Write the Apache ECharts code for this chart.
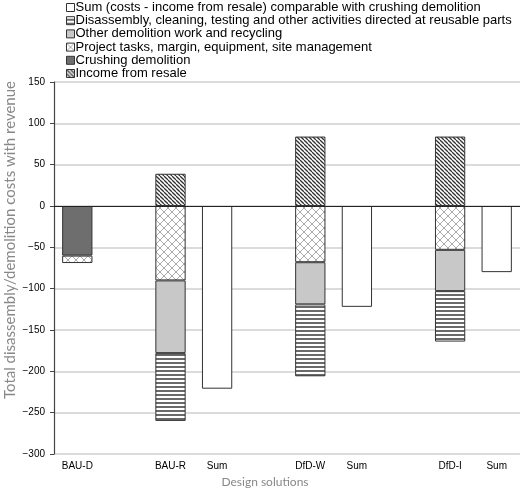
<!DOCTYPE html>
<html><head><meta charset="utf-8">
<script src="https://cdn.jsdelivr.net/npm/echarts@6/dist/echarts.min.js"></script>
<style>html,body{margin:0;padding:0;background:#fff}#c{width:520px;height:488px}</style>
</head><body><div id="c"></div>
<script>
const categories = ['BAU-D', '', 'BAU-R', 'Sum', '', 'DfD-W', 'Sum', '', 'DfD-I', 'Sum'];
const incomeResale = [null, null, 39, null, null, 84, null, null, 84, null];
const crushing = [-60, null, null, null, null, null, null, null, null, null];
const projectTasks = [-9, null, -90, null, null, -68, null, null, -53, null];
const otherDemolition = [null, null, -88, null, null, -51, null, null, -50, null];
const disassembly = [null, null, -82, null, null, -87, null, null, -61, null];
const sumValues = [null, null, null, -221, null, null, -122, null, null, -80];
const yTicks = { min: -300, max: 150, interval: 50 };
const yTitle = 'Total disassembly/demolition costs with revenue';

function pattern(kind) {
  const c = document.createElement('canvas');
  const ctx = c.getContext('2d');
  if (kind === 'diag') {
    c.width = 4; c.height = 4;
    ctx.fillStyle = '#fff'; ctx.fillRect(0, 0, 4, 4);
    ctx.strokeStyle = '#333'; ctx.lineWidth = 1.3;
    for (let k = -4; k <= 8; k += 4) {
      ctx.beginPath(); ctx.moveTo(k, 0); ctx.lineTo(k + 4, 4); ctx.stroke();
    }
  } else if (kind === 'cross') {
    c.width = 8; c.height = 8;
    ctx.fillStyle = '#fff'; ctx.fillRect(0, 0, 8, 8);
    ctx.strokeStyle = '#aaa'; ctx.lineWidth = 1;
    ctx.beginPath();
    ctx.moveTo(0, 0); ctx.lineTo(8, 8);
    ctx.moveTo(8, 0); ctx.lineTo(0, 8);
    ctx.stroke();
  } else if (kind === 'hline') {
    c.width = 4; c.height = 4;
    ctx.fillStyle = '#fff'; ctx.fillRect(0, 0, 4, 4);
    ctx.fillStyle = '#6a6a6a'; ctx.fillRect(0, 2, 4, 2);
  }
  return { image: c, repeat: 'repeat' };
}

const border = { borderColor: '#333', borderWidth: 1 };
const bw = '65%';
function s(name, data, color) {
  return { name, type: 'bar', stack: 'a', data, barWidth: bw,
    itemStyle: Object.assign({ color }, border), emphasis: { disabled: true } };
}
const series = [
  s('Sum (costs - income from resale) comparable with crushing demolition', sumValues, '#fff'),
  s('Crushing demolition', crushing, '#6e6e6e'),
  s('Project tasks, margin, equipment, site management', projectTasks, pattern('cross')),
  s('Other demolition work and recycling', otherDemolition, '#c8c8c8'),
  s('Disassembly, cleaning, testing and other activities directed at reusable parts', disassembly, pattern('hline')),
  s('Income from resale', incomeResale, pattern('diag'))
];
series[0].markLine = { silent: true, symbol: 'none', label: { show: false },
  lineStyle: { color: '#222', width: 1.2, type: 'solid' }, data: [{ yAxis: 0 }] };

const chart = echarts.init(document.getElementById('c'), null, { renderer: 'canvas' });
chart.setOption({
  animation: false,
  backgroundColor: '#fff',
  grid: { left: 54, right: 0, top: 82, bottom: 34, outerBoundsMode: 'none', containLabel: false },
  graphic: [{
    type: 'text', x: 10, y: 240, rotation: Math.PI / 2, silent: true,
    style: { text: yTitle, fontFamily: 'Lato', fontSize: 15, fill: '#888',
      align: 'center', verticalAlign: 'middle' }
  }],
  legend: {
    orient: 'vertical', left: 66, top: 1, itemWidth: 8, itemHeight: 8, itemGap: 0.2,
    icon: 'rect', padding: 0,
    data: [
      'Sum (costs - income from resale) comparable with crushing demolition',
      'Disassembly, cleaning, testing and other activities directed at reusable parts',
      'Other demolition work and recycling',
      'Project tasks, margin, equipment, site management',
      'Crushing demolition',
      'Income from resale'
    ],
    textStyle: { fontFamily: 'Liberation Sans', fontSize: 13, lineHeight: 12, color: '#000', padding: [0, 0, 0, -4] },
    itemStyle: { borderColor: '#333', borderWidth: 1 },
    selectedMode: false
  },
  xAxis: {
    type: 'category', data: categories,
    name: 'Design solutions', nameLocation: 'middle', nameGap: 20,
    nameTextStyle: { fontFamily: 'Lato', fontSize: 12, color: '#888', padding: [0, 44, 0, 0] },
    axisLine: { show: false, onZero: false }, axisTick: { show: false },
    axisLabel: { fontFamily: 'Liberation Sans', fontSize: 10, color: '#000', margin: 7, interval: 0 }
  },
  yAxis: {
    type: 'value', min: yTicks.min, max: yTicks.max, interval: yTicks.interval,
    axisLine: { show: true, lineStyle: { color: '#444', width: 1.2 } },
    axisTick: { show: true, length: 4, lineStyle: { color: '#444' } },
    axisLabel: { fontFamily: 'Liberation Sans', fontSize: 10, color: '#000', margin: 9,
      formatter: v => String(v).replace('-', '\u2212') },
    splitLine: { show: true, lineStyle: { color: '#cfcfcf', width: 1.5 } }
  },
  series
});
</script></body></html>
